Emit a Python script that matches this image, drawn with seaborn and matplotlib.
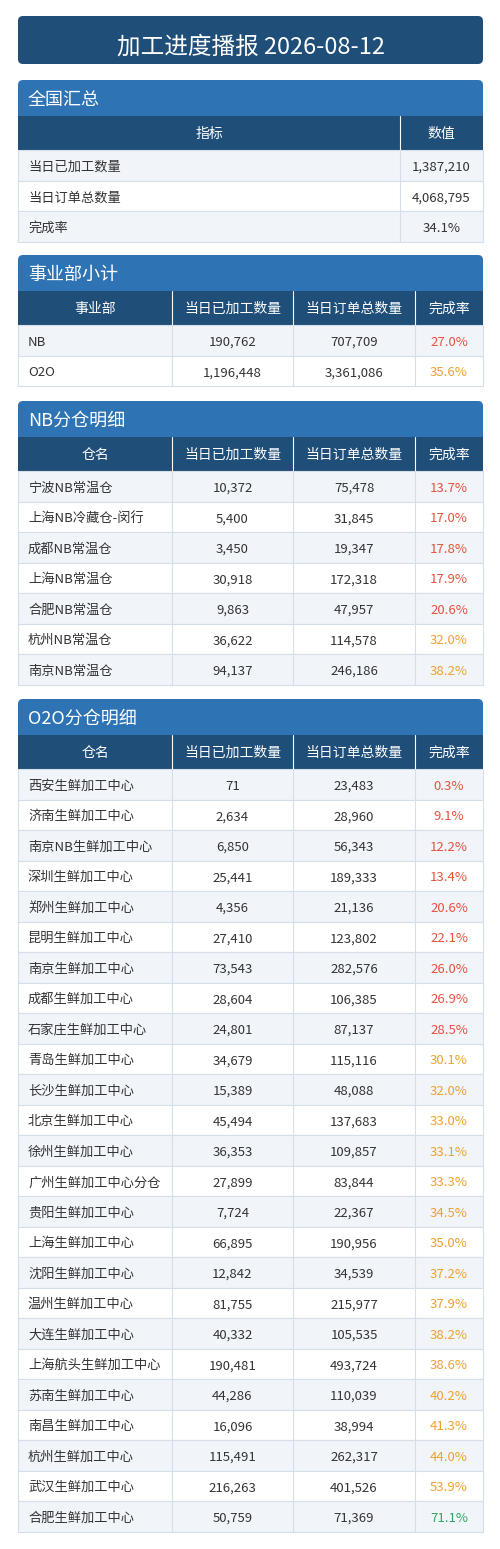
import matplotlib
matplotlib.use("Agg")
import matplotlib.pyplot as plt
import seaborn as sns
from matplotlib.patches import FancyBboxPatch, Rectangle

sns.set_theme(style="white")
plt.rcParams['font.family'] = ['Noto Sans CJK SC', 'DejaVu Sans']

title = "加工进度播报 2026-08-12"

summary_labels = ["当日已加工数量", "当日订单总数量", "完成率"]
summary_values = ["1,387,210", "4,068,795", "34.1%"]

bu_names = ["NB", "O2O"]
bu_done = [190762, 1196448]
bu_orders = [707709, 3361086]

nb_names = ["宁波NB常温仓", "上海NB冷藏仓-闵行", "成都NB常温仓", "上海NB常温仓",
            "合肥NB常温仓", "杭州NB常温仓", "南京NB常温仓"]
nb_done = [10372, 5400, 3450, 30918, 9863, 36622, 94137]
nb_orders = [75478, 31845, 19347, 172318, 47957, 114578, 246186]

o2o_names = ["西安生鲜加工中心", "济南生鲜加工中心", "南京NB生鲜加工中心", "深圳生鲜加工中心",
             "郑州生鲜加工中心", "昆明生鲜加工中心", "南京生鲜加工中心", "成都生鲜加工中心",
             "石家庄生鲜加工中心", "青岛生鲜加工中心", "长沙生鲜加工中心", "北京生鲜加工中心",
             "徐州生鲜加工中心", "广州生鲜加工中心分仓", "贵阳生鲜加工中心", "上海生鲜加工中心",
             "沈阳生鲜加工中心", "温州生鲜加工中心", "大连生鲜加工中心", "上海航头生鲜加工中心",
             "苏南生鲜加工中心", "南昌生鲜加工中心", "杭州生鲜加工中心", "武汉生鲜加工中心",
             "合肥生鲜加工中心"]
o2o_done = [71, 2634, 6850, 25441, 4356, 27410, 73543, 28604, 24801, 34679, 15389, 45494,
            36353, 27899, 7724, 66895, 12842, 81755, 40332, 190481, 44286, 16096, 115491,
            216263, 50759]
o2o_orders = [23483, 28960, 56343, 189333, 21136, 123802, 282576, 106385, 87137, 115116,
              48088, 137683, 109857, 83844, 22367, 190956, 34539, 215977, 105535, 493724,
              110039, 38994, 262317, 401526, 71369]

DARK = "#1f4e79"
SEC = "#2e74b5"
ALT = "#f1f5fa"
LINE = "#d6dee8"
TXT = "#333333"
L, R = 18, 483
ROW = 30.5

fig = plt.figure(figsize=(5.0, 15.49), dpi=100)
ax = fig.add_axes([0, 0, 1, 1])
ax.set_xlim(0, 500)
ax.set_ylim(1549, 0)
ax.axis("off")


def rate_color(r):
    if r < 30:
        return "#e5533d"
    if r < 60:
        return "#f0a030"
    return "#2ea85f"


def section(y, name):
    ax.add_patch(FancyBboxPatch((L, y), R - L, 40, boxstyle="round,pad=0,rounding_size=5",
                                fc=SEC, ec="none"))
    ax.text(28, y + 20, name, color="white", fontsize=13, va="center", ha="left")
    return y + 36


def header(y, cols, heads):
    ax.add_patch(Rectangle((L, y), R - L, 34, fc=DARK, ec="none"))
    for i in range(len(heads)):
        x0, x1 = cols[i], cols[i + 1]
        if i > 0:
            ax.plot([x0, x0], [y, y + 34], color="white", lw=0.8)
        ax.text((x0 + x1) / 2, y + 18, heads[i], color="white", fontsize=10, ha="center", va="center")
    return y + 34


def rows(y, cols, data, first_left=True, colors=None):
    for r, row in enumerate(data):
        y0 = y + r * ROW
        ax.add_patch(Rectangle((L, y0), R - L, ROW, fc=ALT if r % 2 == 0 else "white",
                               ec=LINE, lw=0.8))
        for i, v in enumerate(row):
            x0, x1 = cols[i], cols[i + 1]
            if i > 0:
                ax.plot([x0, x0], [y0, y0 + ROW], color=LINE, lw=0.8)
            c = TXT
            if colors is not None and i == len(row) - 1:
                c = colors[r]
            if i == 0 and first_left:
                ax.text(x0 + 10, y0 + ROW / 2 + 2, v, color=TXT, fontsize=9.5, ha="left", va="center")
            else:
                ax.text((x0 + x1) / 2, y0 + ROW / 2 + 2, v, color=c, fontsize=9.5, ha="center", va="center")
    return y + len(data) * ROW


# title banner
ax.add_patch(FancyBboxPatch((L, 16), R - L, 48, boxstyle="round,pad=0,rounding_size=5",
                            fc=DARK, ec="none"))
ax.text((L + R) / 2, 47, title, color="white", fontsize=17, ha="center", va="center")

# 全国汇总
y = section(80, "全国汇总")
y = header(y, [L, 400, R], ["指标", "数值"])
rows(y, [L, 400, R], [[a, b] for a, b in zip(summary_labels, summary_values)])

cols4 = [L, 172, 293, 415, R]
heads = ["当日已加工数量", "当日订单总数量", "完成率"]


def detail(y, name, first, names, done, orders):
    y = section(y, name)
    y = header(y, cols4, [first] + heads)
    rates = [d / o * 100 for d, o in zip(done, orders)]
    data = [[n, f"{d:,}", f"{o:,}", f"{r:.1f}%"] for n, d, o, r in zip(names, done, orders, rates)]
    return rows(y, cols4, data, colors=[rate_color(r) for r in rates])


detail(255, "事业部小计", "事业部", bu_names, bu_done, bu_orders)
detail(401, "NB分仓明细", "仓名", nb_names, nb_done, nb_orders)
detail(699, "O2O分仓明细", "仓名", o2o_names, o2o_done, o2o_orders)

fig.savefig("out.png", dpi=100, facecolor="white")
